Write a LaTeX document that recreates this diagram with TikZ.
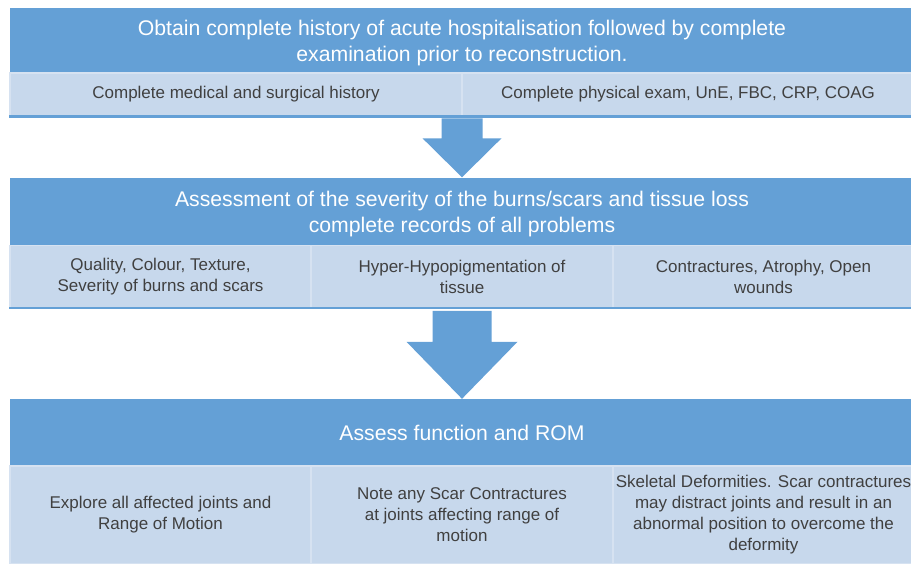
\documentclass[tikz,border=0pt]{standalone}
\usepackage{fontspec}
\setmainfont{Liberation Sans}
\usepackage{tikz}
\usetikzlibrary{calc}

\definecolor{HeadBlue}{HTML}{64A0D6}
\definecolor{CellBlue}{HTML}{C7D8EC}
\definecolor{CellEdge}{HTML}{D6E2F1}
\definecolor{CellText}{HTML}{404040}

\begin{document}
\begin{tikzpicture}[
    x=1pt, y=-1pt,
    headbox/.style={fill=HeadBlue, minimum width=904, inner sep=0, align=center,
        text=white, font=\fontsize{21.2}{26}\selectfont},
    cellbox/.style={fill=CellBlue, draw=CellEdge, line width=1.2, inner sep=0, align=center,
        text=CellText, font=\fontsize{17}{21}\selectfont},
    baseline/.style={draw=HeadBlue, line width=2.5},
    flow/.style={fill=HeadBlue}
]
\useasboundingbox (0,0) rectangle (911,563);

% history and examination
\node[headbox, minimum height=70] (h1) at (462,43) {Obtain complete history of acute hospitalisation followed by complete\\examination prior to reconstruction.};
\node[cellbox, minimum width=452, minimum height=43] (c11) at (236,94.5) {Complete medical and surgical history};
\node[cellbox, minimum width=452, minimum height=43] (c12) at (688,94.5) {Complete physical exam, UnE, FBC, CRP, COAG};
\draw[baseline] (c11.south west) -- (c12.south east);

% severity of burns and scars
\node[headbox, minimum height=74] (h2) at (462,214.5) {Assessment of the severity of the burns/scars and tissue loss\\complete records of all problems};
\node[cellbox, minimum width=301, minimum height=62] (c21) at (160.5,276.5) {Quality, Colour, Texture,\\Severity of burns and scars};
\node[cellbox, minimum width=302, minimum height=62] (c22) at (462,276.5) {Hyper-Hypopigmentation of\\tissue};
\node[cellbox, minimum width=301, minimum height=62] (c23) at (763.5,276.5) {Contractures, Atrophy, Open\\wounds};
\draw[baseline] (c21.south west) -- (c23.south east);

% function and range of motion
\node[headbox, minimum height=67] (h3) at (462,432.5) {Assess function and ROM};
\node[cellbox, minimum width=301, minimum height=98] (c31) at (160.5,515) {Explore all affected joints and\\Range of Motion};
\node[cellbox, minimum width=302, minimum height=98] (c32) at (462,515) {Note any Scar Contractures\\at joints affecting range of\\motion};
\node[cellbox, minimum width=301, minimum height=98] (c33) at (763.5,515) {Skeletal Deformities. Scar contractures\\may distract joints and result in an\\abnormal position to overcome the\\deformity};

% arrows between the blocks
\fill[flow] ($(h2.north)+(-20.5,-59)$) -- ($(h2.north)+(20.5,-59)$) -- ($(h2.north)+(20.5,-39)$)
    -- ($(h2.north)+(39.5,-39)$) -- (h2.north) -- ($(h2.north)+(-39.5,-39)$) -- ($(h2.north)+(-20.5,-39)$) -- cycle;
\fill[flow] ($(h3.north)+(-29.5,-88)$) -- ($(h3.north)+(29.5,-88)$) -- ($(h3.north)+(29.5,-57)$)
    -- ($(h3.north)+(55.5,-57)$) -- (h3.north) -- ($(h3.north)+(-55.5,-57)$) -- ($(h3.north)+(-29.5,-57)$) -- cycle;
\end{tikzpicture}
\end{document}
